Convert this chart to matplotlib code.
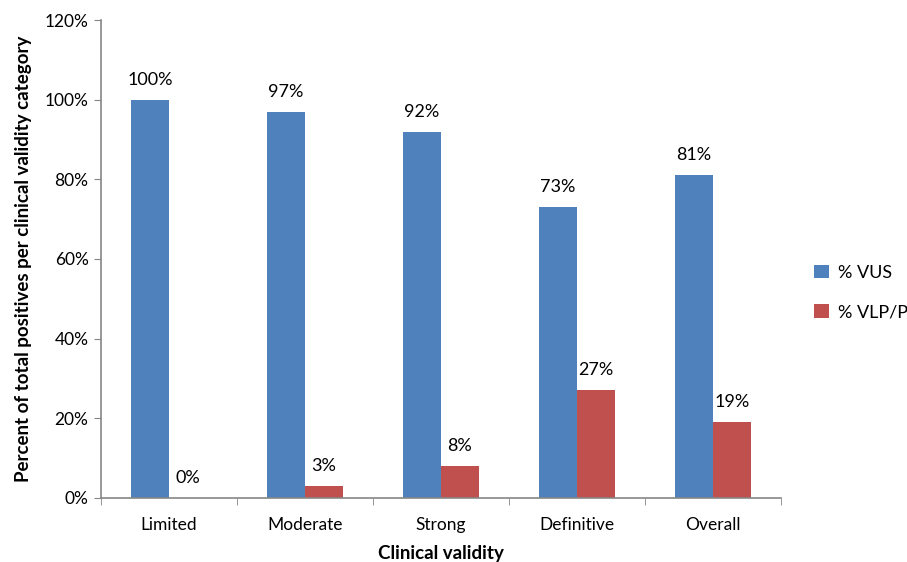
import numpy as np
import matplotlib.pyplot as plt

categories = ['Limited', 'Moderate', 'Strong', 'Definitive', 'Overall']
vus = [100, 97, 92, 73, 81]
vlp = [0, 3, 8, 27, 19]

plt.rcParams['font.family'] = ['Lato', 'DejaVu Sans']

fig = plt.figure(figsize=(9.07, 5.62), dpi=100)
ax = fig.add_axes([0.1114, 0.1139, 0.7495, 0.8505])

x = np.arange(len(categories))
w = 0.28
b1 = ax.bar(x - w / 2, vus, w, color='#4F81BD', label='% VUS')
b2 = ax.bar(x + w / 2, vlp, w, color='#C0504D', label='% VLP/P')

for bars, vals in ((b1, vus), (b2, vlp)):
    for rect, v in zip(bars, vals):
        ax.text(rect.get_x() + rect.get_width() / 2, v + 3, f'{v}%',
                ha='center', va='bottom', fontsize=13)

ax.set_xlim(-0.5, len(categories) - 0.5)
ax.set_ylim(0, 120)
ax.set_yticks(range(0, 121, 20))
ax.set_yticklabels([f'{t}%' for t in range(0, 121, 20)], fontsize=12.5)
ax.set_xticks(x)
ax.set_xticklabels(categories, fontsize=12.5)
ax.set_xticks(np.arange(-0.5, len(categories)), minor=True)
ax.tick_params(axis='x', which='major', length=0, pad=14)
ax.tick_params(axis='x', which='minor', length=5, color='#868686', direction='out')
ax.tick_params(axis='y', length=5, color='#868686', direction='out', pad=4)

for s in ('top', 'right'):
    ax.spines[s].set_visible(False)
for s in ('left', 'bottom'):
    ax.spines[s].set_color('#868686')
    ax.spines[s].set_linewidth(1.2)

ax.set_xlabel('Clinical validity', fontsize=13.5, fontweight='bold', labelpad=8)
ax.set_ylabel('Percent of total positives per clinical validity category',
              fontsize=13.5, fontweight='bold', labelpad=9)

ax.legend(loc='center left', bbox_to_anchor=(1.025, 0.43), frameon=False,
          fontsize=13, handlelength=0.8, handleheight=0.8, labelspacing=1.3,
          handletextpad=0.5)

fig.savefig('out.png', dpi=100)
